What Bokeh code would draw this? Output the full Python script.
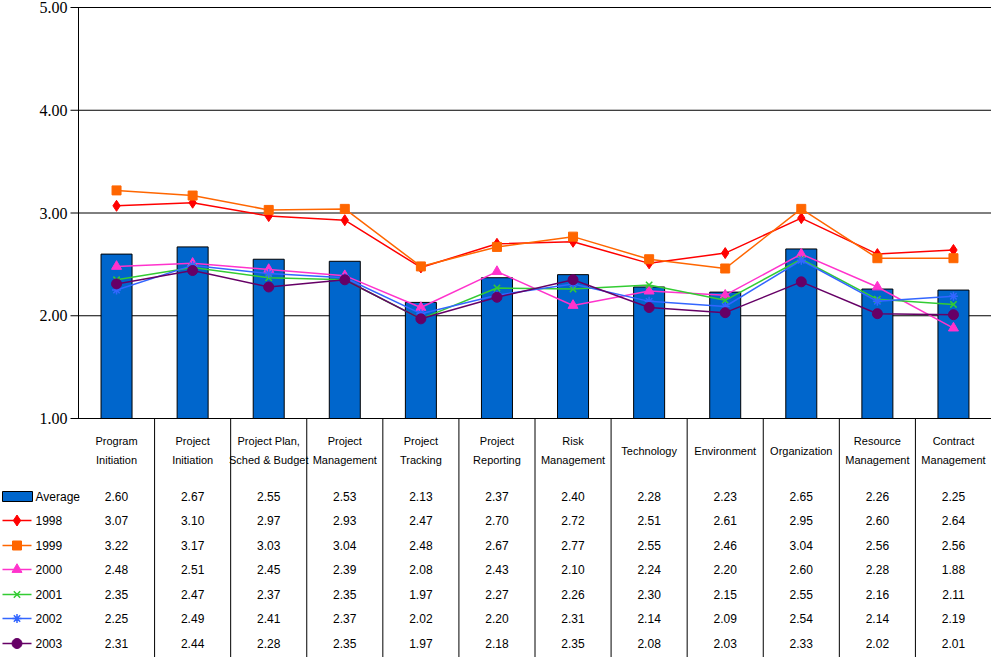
from bokeh.plotting import figure
from bokeh.models import Range1d
from bokeh.core.properties import value
from bokeh.embed import file_html
from bokeh.resources import INLINE

categories = ["Program\nInitiation", "Project\nInitiation", "Project Plan,\nSched & Budget",
              "Project\nManagement", "Project\nTracking", "Project\nReporting", "Risk\nManagement",
              "Technology", "Environment", "Organization", "Resource\nManagement", "Contract\nManagement"]
average = [2.60, 2.67, 2.55, 2.53, 2.13, 2.37, 2.40, 2.28, 2.23, 2.65, 2.26, 2.25]
y1998 = [3.07, 3.10, 2.97, 2.93, 2.47, 2.70, 2.72, 2.51, 2.61, 2.95, 2.60, 2.64]
y1999 = [3.22, 3.17, 3.03, 3.04, 2.48, 2.67, 2.77, 2.55, 2.46, 3.04, 2.56, 2.56]
y2000 = [2.48, 2.51, 2.45, 2.39, 2.08, 2.43, 2.10, 2.24, 2.20, 2.60, 2.28, 1.88]
y2001 = [2.35, 2.47, 2.37, 2.35, 1.97, 2.27, 2.26, 2.30, 2.15, 2.55, 2.16, 2.11]
y2002 = [2.25, 2.49, 2.41, 2.37, 2.02, 2.20, 2.31, 2.14, 2.09, 2.54, 2.14, 2.19]
y2003 = [2.31, 2.44, 2.28, 2.35, 1.97, 2.18, 2.35, 2.08, 2.03, 2.33, 2.02, 2.01]
y_ticks = [1.0, 2.0, 3.0, 4.0, 5.0]
y_tick_labels = ["1.00", "2.00", "3.00", "4.00", "5.00"]

series = [
    ("1998", y1998, "#FF0000", "diamond", 11),
    ("1999", y1999, "#FF6600", "square", 9),
    ("2000", y2000, "#FF33CC", "triangle", 10),
    ("2001", y2001, "#33CC33", "x", 9),
    ("2002", y2002, "#3366FF", "asterisk", 9),
    ("2003", y2003, "#660066", "circle", 10),
]

W, H = 991, 657
LEFT = 78
CW = (W - LEFT) / 12.0
PXU = (418 - 7) / 4.0
YTOP = 5 + 7 / PXU
YBOT = 1 - (H - 418) / PXU


def X(px):
    return (px - LEFT) / CW


def Y(py):
    return YTOP - py / PXU


p = figure(width=W, height=H, output_backend="svg", toolbar_location=None,
           x_range=Range1d(X(0), 12), y_range=Range1d(YBOT, YTOP),
           min_border=0, min_border_left=0, min_border_right=0,
           min_border_top=0, min_border_bottom=0)
p.axis.visible = False
p.grid.visible = False
p.outline_line_color = None
p.background_fill_color = "white"
p.border_fill_color = "white"

FONT = value("Liberation Sans")

# grid lines / value axis ticks
p.segment(x0=[X(70)] * len(y_ticks), x1=[12] * len(y_ticks), y0=y_ticks, y1=y_ticks,
          line_color="black", line_width=1)
p.segment(x0=[0], x1=[0], y0=[1], y1=[5], line_color="black", line_width=1)
p.text(x=[X(67)] * len(y_ticks), y=y_ticks, text=y_tick_labels, text_font=value("Liberation Serif"),
       text_font_size="16px", text_align="right", text_baseline="middle", text_color="black")

# table separators
bounds = list(range(1, 12))
p.segment(x0=bounds, x1=bounds, y0=[1] * len(bounds), y1=[YBOT] * len(bounds),
          line_color="black", line_width=1)

xc = [i + 0.5 for i in range(12)]

# bars
p.vbar(x=xc, top=average, bottom=1, width=31 / CW, fill_color="#0066CC", line_color="black", line_width=1)

# lines
for name, vals, col, mk, sz in series:
    p.line(xc, vals, line_color=col, line_width=1.5)
    if mk in ("x", "asterisk"):
        p.scatter(xc, vals, marker=mk, size=sz, line_color=col, line_width=1.5)
    else:
        p.scatter(xc, vals, marker=mk, size=sz, fill_color=col, line_color=col)

# header category labels
for i, c in enumerate(categories):
    lines = c.split("\n")
    if len(lines) == 2:
        ys = [Y(440), Y(459)]
    else:
        ys = [Y(450)]
    p.text(x=[xc[i]] * len(lines), y=ys, text=lines, text_font=FONT, text_font_size="11px",
           text_align="center", text_baseline="middle", text_color="black")

# data table rows
row_y = [496, 520, 545, 569, 594, 618, 643]
rows = [("Average", average)] + [(s[0], s[1]) for s in series]
for r, (name, vals) in enumerate(rows):
    yy = Y(row_y[r])
    p.text(x=xc, y=[yy] * 12, text=["%.2f" % v for v in vals], text_font=FONT, text_font_size="12px",
           text_align="center", text_baseline="middle", text_color="black")
    p.text(x=[X(35)], y=[yy], text=[name], text_font=FONT, text_font_size="12px",
           text_align="left", text_baseline="middle", text_color="black")

# legend keys
p.quad(left=[X(2)], right=[X(32)], top=[Y(491)], bottom=[Y(501)], fill_color="#0066CC", line_color="black")
for r, (name, vals, col, mk, sz) in enumerate(series):
    yy = Y(row_y[r + 1])
    p.segment(x0=[X(2)], x1=[X(31)], y0=[yy], y1=[yy], line_color=col, line_width=1.5)
    if mk in ("x", "asterisk"):
        p.scatter([X(16.5)], [yy], marker=mk, size=sz, line_color=col, line_width=1.5)
    else:
        p.scatter([X(16.5)], [yy], marker=mk, size=sz, fill_color=col, line_color=col)

open("out.html", "w").write(file_html(p, INLINE))
